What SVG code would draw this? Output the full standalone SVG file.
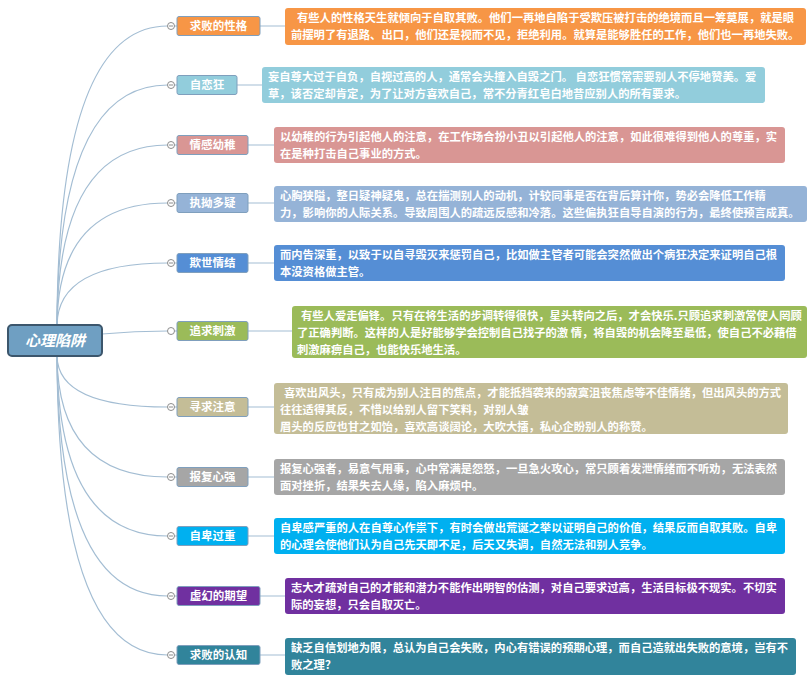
<svg xmlns="http://www.w3.org/2000/svg" width="810" height="686" viewBox="0 0 810 686">
<style>
.bg{fill:#ffffff}
.con{fill:none;stroke:#a3bdd3;stroke-width:1.2}
.lnk{fill:none;stroke:#a3bdd3;stroke-width:1.2}
.tog{fill:#ffffff;stroke:#8c8c8c;stroke-width:1}
.tm{stroke:#8c8c8c;stroke-width:1}
.node{stroke:#7f9fbd;stroke-width:1}
.desc{stroke-width:0}
.nt{font-family:"Noto Sans CJK SC","Noto Sans",sans-serif;font-size:11.5px;font-weight:700;fill:#ffffff;text-anchor:middle}
.dt{font-family:"Noto Sans CJK SC","Noto Sans",sans-serif;font-size:11.3px;font-weight:700;fill:#ffffff}
.ct{font-family:"Noto Sans CJK SC","Noto Sans",sans-serif;font-size:15px;font-weight:700;font-style:italic;fill:#ffffff;text-anchor:middle}
</style>
<rect class="bg" x="0" y="0" width="810" height="686"/>
<g id="connectors">
<path class="con" d="M57,325 Q58,26 167.5,26"/>
<path class="con" d="M57,325 Q58,85 167.5,85"/>
<path class="con" d="M57,325 Q58,145 167.5,145"/>
<path class="con" d="M57,325 Q58,203 167.5,203"/>
<path class="con" d="M57,325 Q58,263 167.5,263"/>
<path class="con" d="M102,334 Q135,331 167.5,331"/>
<path class="con" d="M57,356 Q58,407 167.5,407"/>
<path class="con" d="M57,356 Q58,477 167.5,477"/>
<path class="con" d="M57,356 Q58,536 167.5,536"/>
<path class="con" d="M57,356 Q58,596 167.5,596"/>
<path class="con" d="M57,356 Q58,655 167.5,655"/>
<path class="lnk" d="M174.5,26H177 M260,26H285"/>
<path class="lnk" d="M174.5,85H177 M237,85H262"/>
<path class="lnk" d="M174.5,145H177 M248,145H274"/>
<path class="lnk" d="M174.5,203H177 M248,203H274"/>
<path class="lnk" d="M174.5,263H177 M248,263H274"/>
<path class="lnk" d="M174.5,331H177 M248,331H292"/>
<path class="lnk" d="M174.5,407H177 M248,407H274"/>
<path class="lnk" d="M174.5,477H177 M248,477H274"/>
<path class="lnk" d="M174.5,536H177 M248,536H274"/>
<path class="lnk" d="M174.5,596H177 M260,596H285"/>
<path class="lnk" d="M174.5,655H177 M260,655H285"/>
<g id="toggles">
<circle class="tog" cx="171" cy="26" r="3.5"/><path class="tm" d="M169,26H173"/>
<circle class="tog" cx="171" cy="85" r="3.5"/><path class="tm" d="M169,85H173"/>
<circle class="tog" cx="171" cy="145" r="3.5"/><path class="tm" d="M169,145H173"/>
<circle class="tog" cx="171" cy="203" r="3.5"/><path class="tm" d="M169,203H173"/>
<circle class="tog" cx="171" cy="263" r="3.5"/><path class="tm" d="M169,263H173"/>
<circle class="tog" cx="171" cy="331" r="3.5"/>
<circle class="tog" cx="171" cy="407" r="3.5"/><path class="tm" d="M169,407H173"/>
<circle class="tog" cx="171" cy="477" r="3.5"/><path class="tm" d="M169,477H173"/>
<circle class="tog" cx="171" cy="536" r="3.5"/><path class="tm" d="M169,536H173"/>
<circle class="tog" cx="171" cy="596" r="3.5"/><path class="tm" d="M169,596H173"/>
<circle class="tog" cx="171" cy="655" r="3.5"/><path class="tm" d="M169,655H173"/>
</g>
</g>
<g id="center">
<rect x="8" y="325" width="94" height="31" rx="4" fill="#6f9fc2" stroke="#3c566c" stroke-width="2"/>
<text class="ct" x="55" y="346">心理陷阱</text>
</g>
<g id="n1">
<rect class="node" x="177" y="16.5" width="83" height="19" rx="2" fill="#f79646"/>
<text class="nt" x="218.5" y="30">求败的性格</text>
<rect class="desc" x="285" y="8" width="521" height="37" rx="3" fill="#f79646"/>
<text class="dt" x="297" y="21.5">有些人的性格天生就倾向于自取其败。他们一再地自陷于受欺压被打击的绝境而且一筹莫展，就是眼</text>
<text class="dt" x="291" y="38.5">前摆明了有退路、出口，他们还是视而不见，拒绝利用。就算是能够胜任的工作，他们也一再地失败。</text>
</g>
<g id="n2">
<rect class="node" x="177" y="75.5" width="60" height="19" rx="2" fill="#92cddc"/>
<text class="nt" x="207" y="89">自恋狂</text>
<rect class="desc" x="262" y="67" width="503" height="36" rx="3" fill="#92cddc"/>
<text class="dt" x="268" y="80.5">妄自尊大过于自负，自视过高的人，通常会头撞入自毁之门。 自恋狂惯常需要别人不停地赞美。爱</text>
<text class="dt" x="268" y="97.5">草，该否定却肯定，为了让对方喜欢自己，常不分青红皂白地昔应别人的所有要求。</text>
</g>
<g id="n3">
<rect class="node" x="177" y="135.5" width="71" height="19" rx="2" fill="#d99694"/>
<text class="nt" x="212.5" y="149">情感幼稚</text>
<rect class="desc" x="274" y="127" width="511" height="36" rx="3" fill="#d99694"/>
<text class="dt" x="280" y="140.5">以幼稚的行为引起他人的注意，在工作场合扮小丑以引起他人的注意，如此很难得到他人的尊重，实</text>
<text class="dt" x="280" y="157.5">在是种打击自己事业的方式。</text>
</g>
<g id="n4">
<rect class="node" x="177" y="193.5" width="71" height="19" rx="2" fill="#95b3d7"/>
<text class="nt" x="212.5" y="207">执拗多疑</text>
<rect class="desc" x="274" y="186" width="533" height="36" rx="3" fill="#95b3d7"/>
<text class="dt" x="280" y="199.5">心胸狭隘，整日疑神疑鬼，总在揣测别人的动机，计较同事是否在背后算计你，势必会降低工作精</text>
<text class="dt" x="280" y="216.5">力，影响你的人际关系。导致周围人的疏远反感和冷落。这些偏执狂自导自演的行为，最终使预言成真。</text>
</g>
<g id="n5">
<rect class="node" x="177" y="253.5" width="71" height="19" rx="2" fill="#558ed5"/>
<text class="nt" x="212.5" y="267">欺世情结</text>
<rect class="desc" x="274" y="245" width="511" height="36" rx="3" fill="#558ed5"/>
<text class="dt" x="280" y="258.5">而内告深重，以致于以自寻毁灭来惩罚自己，比如做主管者可能会突然做出个病狂决定来证明自己根</text>
<text class="dt" x="280" y="275.5">本没资格做主管。</text>
</g>
<g id="n6">
<rect class="node" x="177" y="321.5" width="71" height="19" rx="2" fill="#9bbb59"/>
<text class="nt" x="212.5" y="335">追求刺激</text>
<rect class="desc" x="292" y="306" width="515" height="52" rx="3" fill="#9bbb59"/>
<text class="dt" x="301" y="319.5">有些人爱走偏锋。只有在将生活的步调转得很快，星头转向之后，才会快乐.只顾追求刺激常使人罔顾</text>
<text class="dt" x="297" y="336.5">了正确判断。这样的人是好能够学会控制自己找子的激 情，将自毁的机会降至最低，使自己不必藉借</text>
<text class="dt" x="297" y="353.5">刺激麻痹自己，也能快乐地生活。</text>
</g>
<g id="n7">
<rect class="node" x="177" y="397.5" width="71" height="19" rx="2" fill="#c4bd97"/>
<text class="nt" x="212.5" y="411">寻求注意</text>
<rect class="desc" x="274" y="383" width="514" height="51" rx="3" fill="#c4bd97"/>
<text class="dt" x="284" y="396.5">喜欢出风头，只有成为别人注目的焦点，才能抵挡袭来的寂寞沮丧焦虑等不佳情绪，但出风头的方式</text>
<text class="dt" x="280" y="413.5">往往适得其反，不惜以给别人留下笑料，对别人皱</text>
<text class="dt" x="280" y="430.5">眉头的反应也甘之如饴，喜欢高谈阔论，大吹大擂，私心企盼别人的称赞。</text>
</g>
<g id="n8">
<rect class="node" x="177" y="467.5" width="71" height="19" rx="2" fill="#a6a6a6"/>
<text class="nt" x="212.5" y="481">报复心强</text>
<rect class="desc" x="274" y="459" width="511" height="36" rx="3" fill="#a6a6a6"/>
<text class="dt" x="280" y="472.5">报复心强者，易意气用事，心中常满是怨怒，一旦急火攻心，常只顾着发泄情绪而不听劝，无法表然</text>
<text class="dt" x="280" y="489.5">面对挫折，结果失去人缘，陷入麻烦中。</text>
</g>
<g id="n9">
<rect class="node" x="177" y="526.5" width="71" height="19" rx="2" fill="#00b0f0"/>
<text class="nt" x="212.5" y="540">自卑过重</text>
<rect class="desc" x="274" y="518" width="511" height="36" rx="3" fill="#00b0f0"/>
<text class="dt" x="280" y="531.5">自卑感严重的人在自尊心作祟下，有时会做出荒诞之举以证明自己的价值，结果反而自取其败。自卑</text>
<text class="dt" x="280" y="548.5">的心理会使他们认为自己先天即不足，后天又失调，自然无法和别人竞争。</text>
</g>
<g id="n10">
<rect class="node" x="177" y="586.5" width="83" height="19" rx="2" fill="#7030a0"/>
<text class="nt" x="218.5" y="600">虚幻的期望</text>
<rect class="desc" x="285" y="578" width="500" height="36" rx="3" fill="#7030a0"/>
<text class="dt" x="291" y="591.5">志大才疏对自己的才能和潜力不能作出明智的估测，对自己要求过高，生活目标极不现实。不切实</text>
<text class="dt" x="291" y="608.5">际的妄想，只会自取灭亡。</text>
</g>
<g id="n11">
<rect class="node" x="177" y="645.5" width="83" height="19" rx="2" fill="#31849b"/>
<text class="nt" x="218.5" y="659">求败的认知</text>
<rect class="desc" x="285" y="638" width="511" height="37" rx="3" fill="#31849b"/>
<text class="dt" x="291" y="651.5">缺乏自信划地为限，总认为自己会失败，内心有错误的预期心理，而自己造就出失败的意境，岂有不</text>
<text class="dt" x="291" y="668.5">败之理？</text>
</g>
</svg>
